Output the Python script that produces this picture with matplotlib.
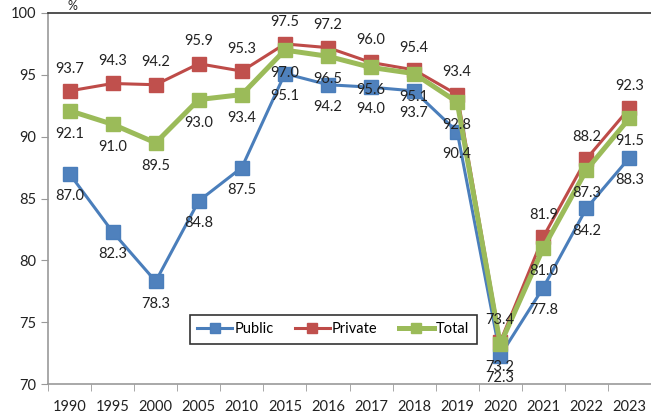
import matplotlib
matplotlib.use("Agg")
import matplotlib.pyplot as plt

years = ["1990", "1995", "2000", "2005", "2010", "2015", "2016", "2017",
         "2018", "2019", "2020", "2021", "2022", "2023"]
public = [87.0, 82.3, 78.3, 84.8, 87.5, 95.1, 94.2, 94.0, 93.7, 90.4, 72.3, 77.8, 84.2, 88.3]
private = [93.7, 94.3, 94.2, 95.9, 95.3, 97.5, 97.2, 96.0, 95.4, 93.4, 73.4, 81.9, 88.2, 92.3]
total = [92.1, 91.0, 89.5, 93.0, 93.4, 97.0, 96.5, 95.6, 95.1, 92.8, 73.2, 81.0, 87.3, 91.5]

plt.rcParams['font.family'] = ['Lato', 'DejaVu Sans']

fig = plt.figure(figsize=(6.51, 4.16), dpi=100)
ax = fig.add_axes([48/651, 1-384/416, 603/651, (384-13)/416])
x = list(range(len(years)))

ax.plot(x, public, color="#4A7EBB", lw=2.2, marker="s", ms=10, mec="#4A7EBB", mfc="#4F81BD", label="Public", zorder=3)
ax.plot(x, private, color="#BE4B48", lw=2.2, marker="s", ms=10, mec="#C0504D", mfc="#C0504D", label="Private", zorder=4)
ax.plot(x, total, color="#9BBB59", lw=3.6, marker="s", ms=10, mec="#9BBB59", mfc="#9BBB59", label="Total", zorder=5)

fs = 10.5
for i in x:
    ax.annotate(f"{private[i]:.1f}", (i, private[i]), xytext=(0, 11), textcoords="offset points",
                ha="center", va="bottom", fontsize=fs, color="#222222", zorder=6)
    ax.annotate(f"{total[i]:.1f}", (i, total[i]), xytext=(0, -11.5), textcoords="offset points",
                ha="center", va="top", fontsize=fs, color="#222222", zorder=6)
    ax.annotate(f"{public[i]:.1f}", (i, public[i]), xytext=(0, -11), textcoords="offset points",
                ha="center", va="top", fontsize=fs, color="#222222", zorder=6)

ax.set_xlim(-0.5, len(years) - 0.5)
ax.set_ylim(70, 100)
ax.set_yticks([70, 75, 80, 85, 90, 95, 100])
ax.set_xticks(x)
ax.set_xticklabels(years)
ax.set_xticks([i - 0.5 for i in range(len(years) + 1)], minor=True)
ax.tick_params(axis="x", which="major", length=0, labelsize=10.5, pad=11.5, colors="#222222")
ax.tick_params(axis="x", which="minor", length=5, color="#999999")
ax.tick_params(axis="y", length=5, color="#999999", labelsize=10.5, labelcolor="#222222")

for s in ["left", "bottom"]:
    ax.spines[s].set_color("#999999")
    ax.spines[s].set_linewidth(1.2)
ax.spines["right"].set_visible(False)
ax.spines["top"].set_color("#333333")
ax.spines["top"].set_linewidth(1.2)

fig.text(72/651, 1-6/416, "%", ha="center", va="center", fontsize=9, color="#222222")

leg = ax.legend(loc="upper left", bbox_to_anchor=((190-48)/603, (384-315)/371), ncol=3,
                frameon=True, fancybox=False, edgecolor="black", fontsize=10.5,
                handlelength=2.4, columnspacing=1.45, borderpad=0.5, handletextpad=0.15,
                markerscale=0.65, borderaxespad=0)
leg.get_frame().set_linewidth(1.2)

fig.savefig("out.png", dpi=100)
